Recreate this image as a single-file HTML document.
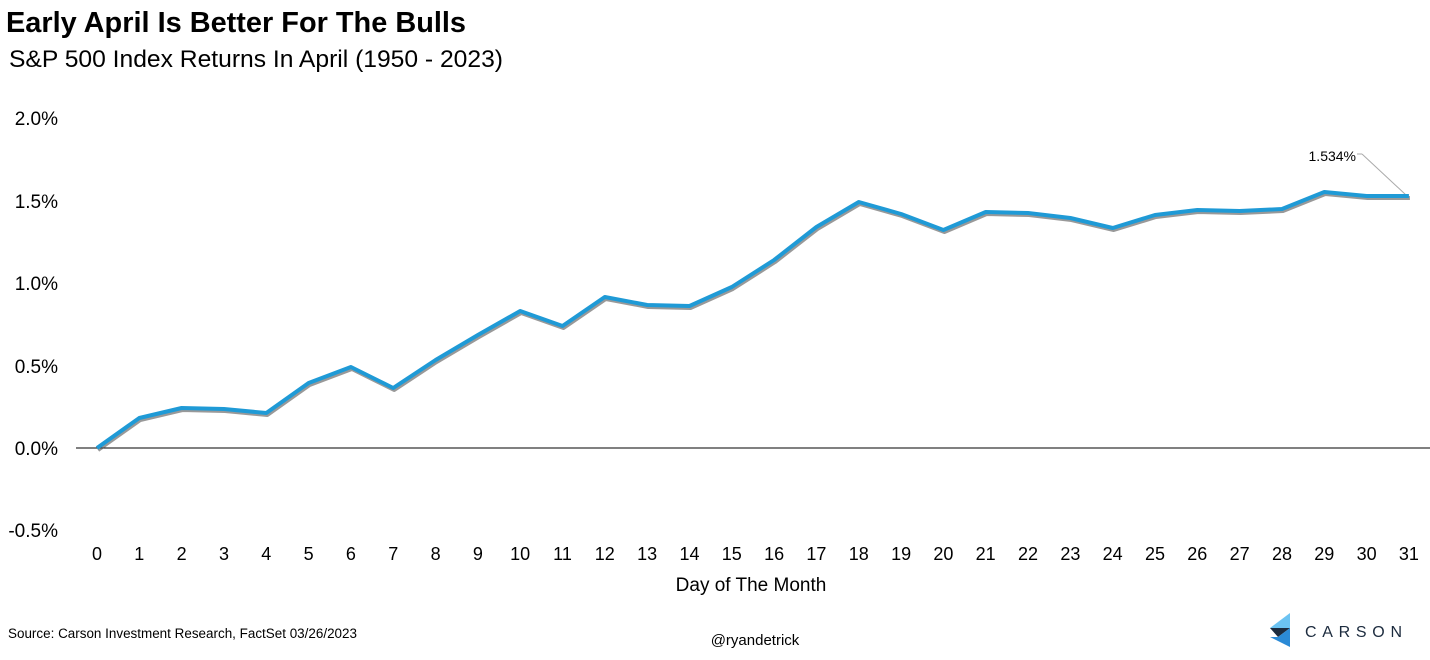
<!DOCTYPE html>
<html><head><meta charset="utf-8"><style>
html,body{margin:0;padding:0;background:#fff;}
svg{display:block;font-family:"Liberation Sans",Arial,sans-serif;}
</style></head><body>
<svg width="1430" height="660" viewBox="0 0 1430 660" xmlns="http://www.w3.org/2000/svg">
<rect width="1430" height="660" fill="#fff"/>
<text x="6" y="32" font-size="28.5" font-weight="bold" fill="#000" textLength="460" lengthAdjust="spacingAndGlyphs">Early April Is Better For The Bulls</text>
<text x="9" y="67" font-size="24" fill="#000" textLength="494" lengthAdjust="spacingAndGlyphs">S&amp;P 500 Index Returns In April (1950 - 2023)</text>
<g font-size="19" fill="#000" text-anchor="end">
<text x="58" y="125">2.0%</text>
<text x="58" y="208">1.5%</text>
<text x="58" y="290">1.0%</text>
<text x="58" y="373">0.5%</text>
<text x="58" y="455">0.0%</text>
<text x="58" y="537">-0.5%</text>
</g>
<line x1="76" y1="448" x2="1430" y2="448" stroke="#000" stroke-width="1"/>
<g font-size="18" fill="#000" text-anchor="middle" id="xl"></g>
<text x="751" y="591" font-size="19" text-anchor="middle">Day of The Month</text>
<line x1="1362" y1="154" x2="1406" y2="195" stroke="#aaa" stroke-width="1"/>
<line x1="1357" y1="154" x2="1362" y2="154" stroke="#aaa" stroke-width="1"/>
<text x="1356" y="161" font-size="14" text-anchor="end">1.534%</text>
<polyline id="sh" fill="none" stroke="#555" stroke-opacity="0.6" stroke-width="4" stroke-linejoin="round" transform="translate(1,2)"/>
<polyline id="ln" fill="none" stroke="#1f9ad6" stroke-width="4" stroke-linejoin="round"/>
<text x="8" y="638" font-size="13.5" fill="#000" textLength="349" lengthAdjust="spacingAndGlyphs">Source: Carson Investment Research, FactSet 03/26/2023</text>
<text x="755" y="645" font-size="15" text-anchor="middle">@ryandetrick</text>
<polygon points="1290,613 1270,628 1290,628" fill="#6cc3f2"/>
<polygon points="1270,628 1290,628 1278,637" fill="#1c2b3e"/>
<polygon points="1278,637 1290,628 1290,647 1270,637" fill="#2b8ad6"/>
<text x="1305" y="637" font-size="16" fill="#1c2b3e" textLength="97" lengthAdjust="spacing">CARSON</text>
</svg>
<script>
var ys=[448,418,408,409,413,383,367,388,360,335,311,326,297,305,306,287,260,227,202,214,230,212,213,218,228,215,210,211,209,192,196,196];
var pts=ys.map(function(y,i){return (97+42.32*i).toFixed(1)+","+y;}).join(" ");
document.getElementById("ln").setAttribute("points",pts);
document.getElementById("sh").setAttribute("points",pts);
var g=document.getElementById("xl"),ns="http://www.w3.org/2000/svg";
for(var i=0;i<32;i++){var t=document.createElementNS(ns,"text");t.setAttribute("x",(97+42.32*i).toFixed(1));t.setAttribute("y","560");t.textContent=i;g.appendChild(t);}
</script>
</body></html>
